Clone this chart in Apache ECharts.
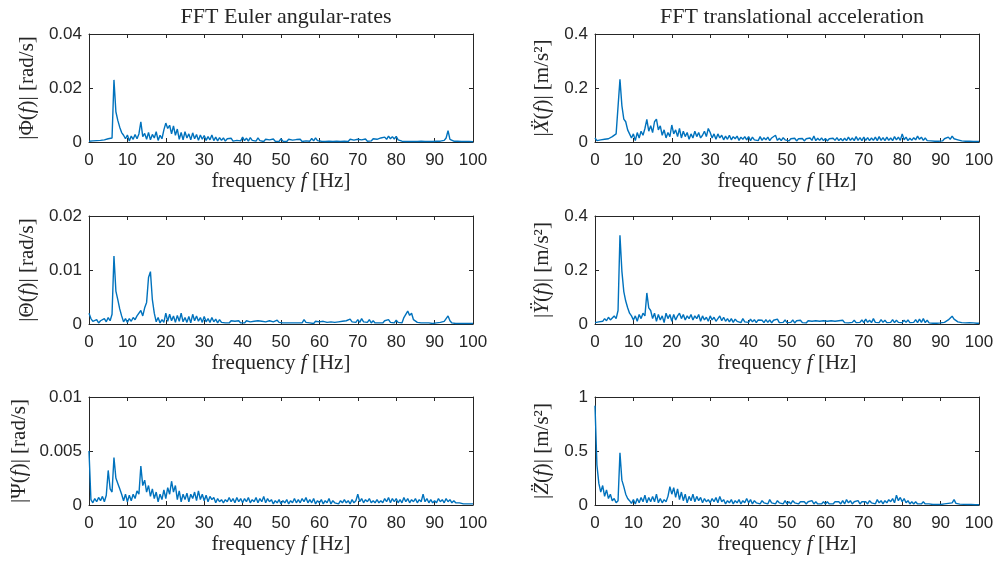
<!DOCTYPE html>
<html><head><meta charset="utf-8">
<script src="https://cdn.jsdelivr.net/npm/echarts@6/dist/echarts.min.js"></script>
<style>html,body{margin:0;padding:0;background:#fff}#c{width:998px;height:562px}</style>
</head><body><div id="c"></div>
<script>
// frequency bins [Hz]
const freq = [
0,0.5,1,1.5,2,2.5,3,3.5,4,4.5,
5,5.5,6,6.5,7,7.5,8,8.5,9,9.5,
10,10.5,11,11.5,12,12.5,13,13.5,14,14.5,
15,15.5,16,16.5,17,17.5,18,18.5,19,19.5,
20,20.5,21,21.5,22,22.5,23,23.5,24,24.5,
25,25.5,26,26.5,27,27.5,28,28.5,29,29.5,
30,30.5,31,31.5,32,32.5,33,33.5,34,34.5,
35,35.5,36,36.5,37,37.5,38,38.5,39,39.5,
40,40.5,41,41.5,42,42.5,43,43.5,44,44.5,
45,45.5,46,46.5,47,47.5,48,48.5,49,49.5,
50,50.5,51,51.5,52,52.5,53,53.5,54,54.5,
55,55.5,56,56.5,57,57.5,58,58.5,59,59.5,
60,60.5,61,61.5,62,62.5,63,63.5,64,64.5,
65,65.5,66,66.5,67,67.5,68,68.5,69,69.5,
70,70.5,71,71.5,72,72.5,73,73.5,74,74.5,
75,75.5,76,76.5,77,77.5,78,78.5,79,79.5,
80,80.5,81,81.5,82,82.5,83,83.5,84,84.5,
85,85.5,86,86.5,87,87.5,88,88.5,89,89.5,
90,90.5,91,91.5,92,92.5,93,93.5,94,94.5,
95,95.5,96,96.5,97,97.5,98,98.5,99,99.5,
100];

// |Phi(f)| [rad/s]
const phiAmp = [
0.0003,0.0002,0.0004,0.0003,0.0005,0.0003,0.0006,0.0004,0.0008,0.0005,
0.0012,0.0006,0.0015,0.0230,0.0112,0.0080,0.0055,0.0035,0.0025,0.0012,
0.0026,0.0004,0.0022,0.0010,0.0028,0.0012,0.0030,0.0075,0.0020,0.0032,
0.0010,0.0035,0.0008,0.0028,0.0015,0.0038,0.0006,0.0025,0.0012,0.0045,
0.0070,0.0050,0.0062,0.0030,0.0060,0.0025,0.0048,0.0010,0.0035,0.0008,
0.0038,0.0015,0.0030,0.0008,0.0034,0.0012,0.0028,0.0006,0.0026,0.0010,
0.0024,0.0006,0.0020,0.0008,0.0026,0.0005,0.0018,0.0004,0.0016,0.0006,
0.0015,0.0003,0.0012,0.0005,0.0014,0.0003,0.0010,0.0006,0.0012,0.0004,
0.0018,0.0005,0.0014,0.0003,0.0016,0.0006,0.0012,0.0003,0.0015,0.0005,
0.0012,0.0002,0.0010,0.0004,0.0008,0.0002,0.0011,0.0003,0.0009,0.0002,
0.0012,0.0003,0.0008,0.0002,0.0010,0.0003,0.0007,0.0002,0.0009,0.0003,
0.0010,0.0002,0.0008,0.0004,0.0011,0.0003,0.0013,0.0004,0.0015,0.0005,
0.0010,0.0003,0.0006,0.0002,0.0008,0.0003,0.0007,0.0002,0.0006,0.0003,
0.0008,0.0002,0.0006,0.0003,0.0009,0.0002,0.0010,0.0003,0.0007,0.0004,
0.0010,0.0003,0.0008,0.0004,0.0011,0.0003,0.0009,0.0004,0.0012,0.0005,
0.0010,0.0006,0.0015,0.0008,0.0018,0.0010,0.0022,0.0012,0.0020,0.0011,
0.0021,0.0008,0.0015,0.0003,0.0008,0.0002,0.0009,0.0002,0.0006,0.0002,
0.0007,0.0002,0.0009,0.0003,0.0005,0.0002,0.0006,0.0002,0.0004,0.0002,
0.0005,0.0003,0.0006,0.0003,0.0008,0.0006,0.0015,0.0042,0.0010,0.0004,
0.0003,0.0002,0.0003,0.0002,0.0002,0.0002,0.0002,0.0001,0.0002,0.0001,
0.0001];

// |Theta(f)| [rad/s]
const thetaAmp = [
0.0020,0.0010,0.0005,0.0003,0.0008,0.0002,0.0006,0.0003,0.0010,0.0004,
0.0012,0.0006,0.0018,0.0126,0.0061,0.0045,0.0028,0.0015,0.0004,0.0010,
0.0003,0.0010,0.0005,0.0012,0.0008,0.0015,0.0012,0.0025,0.0015,0.0030,
0.0040,0.0086,0.0097,0.0045,0.0020,0.0004,0.0012,0.0002,0.0008,0.0003,
0.0020,0.0005,0.0018,0.0006,0.0015,0.0003,0.0016,0.0005,0.0020,0.0004,
0.0012,0.0003,0.0014,0.0002,0.0018,0.0006,0.0015,0.0005,0.0012,0.0003,
0.0014,0.0004,0.0010,0.0003,0.0012,0.0004,0.0009,0.0002,0.0008,0.0003,
0.0006,0.0002,0.0005,0.0002,0.0006,0.0003,0.0005,0.0002,0.0006,0.0002,
0.0005,0.0002,0.0006,0.0003,0.0004,0.0002,0.0005,0.0002,0.0006,0.0003,
0.0005,0.0002,0.0004,0.0002,0.0006,0.0003,0.0004,0.0002,0.0007,0.0003,
0.0005,0.0002,0.0004,0.0002,0.0005,0.0002,0.0004,0.0002,0.0005,0.0002,
0.0004,0.0002,0.0008,0.0003,0.0005,0.0002,0.0004,0.0001,0.0005,0.0002,
0.0004,0.0002,0.0005,0.0002,0.0003,0.0001,0.0004,0.0002,0.0003,0.0001,
0.0004,0.0002,0.0005,0.0003,0.0006,0.0003,0.0009,0.0004,0.0007,0.0003,
0.0008,0.0003,0.0010,0.0004,0.0007,0.0003,0.0008,0.0002,0.0006,0.0002,
0.0005,0.0002,0.0004,0.0002,0.0006,0.0003,0.0008,0.0003,0.0006,0.0002,
0.0007,0.0003,0.0006,0.0002,0.0012,0.0018,0.0024,0.0016,0.0020,0.0008,
0.0006,0.0003,0.0004,0.0002,0.0003,0.0002,0.0003,0.0002,0.0002,0.0001,
0.0003,0.0002,0.0004,0.0003,0.0006,0.0005,0.0008,0.0015,0.0006,0.0002,
0.0002,0.0001,0.0002,0.0001,0.0002,0.0001,0.0001,0.0001,0.0002,0.0001,
0.0001];

// |Psi(f)| [rad/s]
const psiAmp = [
0.0050,0.0005,0.0002,0.0006,0.0003,0.0007,0.0004,0.0008,0.0003,0.0009,
0.0032,0.0015,0.0012,0.0044,0.0025,0.0020,0.0015,0.0010,0.0004,0.0010,
0.0003,0.0009,0.0004,0.0010,0.0006,0.0013,0.0010,0.0036,0.0018,0.0023,
0.0012,0.0018,0.0008,0.0015,0.0006,0.0012,0.0003,0.0010,0.0005,0.0014,
0.0006,0.0016,0.0010,0.0022,0.0012,0.0018,0.0005,0.0013,0.0003,0.0010,
0.0005,0.0011,0.0003,0.0010,0.0006,0.0012,0.0004,0.0013,0.0005,0.0010,
0.0004,0.0009,0.0003,0.0008,0.0005,0.0007,0.0002,0.0006,0.0003,0.0005,
0.0002,0.0005,0.0003,0.0007,0.0003,0.0006,0.0002,0.0007,0.0003,0.0006,
0.0002,0.0006,0.0003,0.0007,0.0002,0.0005,0.0003,0.0007,0.0002,0.0006,
0.0003,0.0008,0.0002,0.0006,0.0003,0.0005,0.0001,0.0004,0.0002,0.0005,
0.0001,0.0004,0.0002,0.0005,0.0001,0.0004,0.0002,0.0006,0.0002,0.0005,
0.0002,0.0006,0.0003,0.0007,0.0002,0.0005,0.0002,0.0006,0.0001,0.0004,
0.0002,0.0005,0.0001,0.0004,0.0002,0.0006,0.0001,0.0004,0.0002,0.0003,
0.0001,0.0004,0.0002,0.0005,0.0002,0.0004,0.0001,0.0005,0.0002,0.0004,
0.0010,0.0003,0.0006,0.0002,0.0005,0.0003,0.0006,0.0002,0.0004,0.0002,
0.0005,0.0002,0.0004,0.0002,0.0006,0.0003,0.0007,0.0002,0.0006,0.0003,
0.0006,0.0002,0.0005,0.0002,0.0007,0.0003,0.0006,0.0002,0.0005,0.0003,
0.0006,0.0002,0.0005,0.0003,0.0010,0.0003,0.0006,0.0002,0.0005,0.0002,
0.0004,0.0002,0.0006,0.0003,0.0005,0.0002,0.0006,0.0003,0.0005,0.0002,
0.0004,0.0002,0.0003,0.0002,0.0003,0.0001,0.0002,0.0001,0.0001,0.0001,
0.0001];

// |X''(f)| [m/s^2]
const xAcc = [
0.015,0.005,0.010,0.008,0.012,0.010,0.015,0.012,0.018,0.020,
0.025,0.030,0.035,0.232,0.135,0.085,0.075,0.045,0.030,0.015,
0.030,0.005,0.035,0.015,0.040,0.025,0.050,0.084,0.040,0.060,
0.035,0.075,0.085,0.045,0.060,0.025,0.045,0.015,0.035,0.020,
0.063,0.030,0.045,0.020,0.050,0.015,0.040,0.020,0.035,0.010,
0.030,0.015,0.040,0.020,0.035,0.015,0.025,0.040,0.020,0.050,
0.035,0.015,0.030,0.010,0.030,0.015,0.025,0.008,0.022,0.010,
0.025,0.008,0.020,0.012,0.022,0.006,0.018,0.010,0.020,0.008,
0.020,0.005,0.018,0.008,0.015,0.005,0.020,0.006,0.016,0.008,
0.018,0.005,0.015,0.008,0.025,0.006,0.014,0.005,0.016,0.008,
0.015,0.004,0.012,0.006,0.014,0.004,0.012,0.005,0.013,0.004,
0.012,0.005,0.015,0.006,0.022,0.005,0.014,0.006,0.015,0.005,
0.013,0.004,0.012,0.005,0.014,0.006,0.016,0.005,0.013,0.004,
0.014,0.005,0.018,0.006,0.015,0.005,0.020,0.006,0.016,0.005,
0.018,0.006,0.016,0.005,0.015,0.006,0.018,0.005,0.020,0.006,
0.016,0.005,0.018,0.006,0.015,0.005,0.020,0.008,0.018,0.006,
0.030,0.008,0.018,0.005,0.014,0.006,0.016,0.008,0.022,0.010,
0.018,0.006,0.015,0.005,0.012,0.004,0.008,0.003,0.006,0.003,
0.008,0.004,0.012,0.006,0.018,0.010,0.022,0.012,0.016,0.008,
0.008,0.004,0.006,0.003,0.005,0.003,0.004,0.002,0.003,0.002,
0.002];

// |Y''(f)| [m/s^2]
const yAcc = [
0.005,0.010,0.008,0.015,0.010,0.020,0.012,0.025,0.015,0.020,
0.030,0.020,0.050,0.329,0.196,0.120,0.085,0.060,0.040,0.030,
0.015,0.030,0.010,0.035,0.020,0.040,0.030,0.115,0.060,0.050,
0.020,0.040,0.010,0.035,0.015,0.030,0.005,0.040,0.020,0.035,
0.010,0.035,0.015,0.030,0.040,0.020,0.035,0.015,0.030,0.020,
0.035,0.015,0.030,0.020,0.035,0.010,0.030,0.015,0.025,0.010,
0.030,0.015,0.025,0.010,0.020,0.030,0.012,0.025,0.010,0.020,
0.008,0.020,0.006,0.018,0.010,0.015,0.005,0.020,0.008,0.015,
0.006,0.018,0.008,0.016,0.005,0.015,0.008,0.014,0.005,0.016,
0.006,0.015,0.004,0.014,0.008,0.018,0.005,0.012,0.006,0.015,
0.005,0.012,0.006,0.015,0.004,0.012,0.006,0.014,0.005,0.012,
0.004,0.012,0.006,0.010,0.004,0.012,0.005,0.010,0.004,0.012,
0.005,0.010,0.004,0.012,0.005,0.010,0.004,0.012,0.005,0.014,
0.005,0.012,0.004,0.010,0.006,0.014,0.005,0.012,0.006,0.015,
0.005,0.018,0.006,0.014,0.005,0.020,0.006,0.012,0.005,0.016,
0.006,0.014,0.005,0.012,0.006,0.016,0.005,0.014,0.006,0.012,
0.005,0.014,0.006,0.015,0.005,0.012,0.006,0.016,0.005,0.018,
0.006,0.020,0.005,0.014,0.004,0.008,0.003,0.006,0.003,0.005,
0.004,0.008,0.006,0.012,0.015,0.022,0.029,0.018,0.012,0.008,
0.010,0.005,0.008,0.004,0.008,0.005,0.006,0.004,0.005,0.003,
0.003];

// |Z''(f)| [m/s^2]
const zAcc = [
0.92,0.37,0.20,0.12,0.18,0.08,0.14,0.06,0.10,0.04,
0.06,0.02,0.04,0.484,0.23,0.17,0.10,0.06,0.04,0.015,
0.05,0.01,0.06,0.02,0.07,0.03,0.09,0.02,0.07,0.03,
0.08,0.03,0.10,0.02,0.06,0.02,0.05,0.03,0.08,0.17,
0.10,0.16,0.07,0.15,0.05,0.12,0.04,0.10,0.02,0.08,
0.04,0.10,0.03,0.08,0.04,0.07,0.02,0.06,0.03,0.05,
0.02,0.06,0.03,0.07,0.02,0.08,0.03,0.05,0.01,0.04,
0.02,0.05,0.01,0.04,0.02,0.05,0.01,0.04,0.02,0.06,
0.02,0.05,0.01,0.04,0.02,0.03,0.01,0.04,0.02,0.03,
0.01,0.05,0.02,0.03,0.01,0.04,0.02,0.03,0.01,0.04,
0.01,0.03,0.01,0.04,0.02,0.03,0.01,0.03,0.02,0.03,
0.01,0.03,0.02,0.04,0.01,0.03,0.01,0.02,0.01,0.03,
0.01,0.03,0.01,0.02,0.01,0.03,0.02,0.03,0.01,0.04,
0.01,0.05,0.02,0.04,0.01,0.03,0.02,0.04,0.01,0.03,
0.02,0.03,0.01,0.04,0.02,0.03,0.01,0.05,0.02,0.04,
0.01,0.04,0.02,0.05,0.03,0.06,0.02,0.09,0.04,0.07,
0.03,0.06,0.02,0.04,0.01,0.03,0.01,0.03,0.01,0.02,
0.01,0.03,0.01,0.02,0.01,0.02,0.005,0.015,0.005,0.01,
0.005,0.015,0.01,0.02,0.015,0.03,0.02,0.05,0.015,0.01,
0.008,0.005,0.006,0.004,0.005,0.003,0.004,0.003,0.003,0.002,
0.002];

const xTicks = [0,10,20,30,40,50,60,70,80,90,100];
const titles = ['FFT Euler angular-rates', 'FFT translational acceleration'];

const serif = 'Liberation Serif';
const sans = 'Liberation Sans';
const ink = '#262626';
const lineColor = '#0072BD';

const panels = [
  {data: phiAmp,   max: 0.04,  step: 0.02,  left: 89,  top: 34,  name: '{r||Φ(}{i|f}{r|)| [rad/s]}', gap: 51},
  {data: xAcc,     max: 0.4,   step: 0.2,   left: 595, top: 34,  name: '{r||}{i|Ẍ}{r|(}{i|f}{r|)| [m/s²]}', gap: 42},
  {data: thetaAmp, max: 0.02,  step: 0.01,  left: 89,  top: 216, name: '{r||Θ(}{i|f}{r|)| [rad/s]}', gap: 51},
  {data: yAcc,     max: 0.4,   step: 0.2,   left: 595, top: 216, name: '{r||}{i|Ÿ}{r|(}{i|f}{r|)| [m/s²]}', gap: 42},
  {data: psiAmp,   max: 0.01,  step: 0.005, left: 89,  top: 397, name: '{r||Ψ(}{i|f}{r|)| [rad/s]}', gap: 59},
  {data: zAcc,     max: 1,     step: 0.5,   left: 595, top: 397, name: '{r||}{i|Z\u0308}{r|(}{i|f}{r|)| [m/s²]}', gap: 42}
];

const rich = {
  r: {fontFamily: serif, fontSize: 21, color: ink},
  i: {fontFamily: serif, fontSize: 21, color: ink, fontStyle: 'italic'}
};

const grid = [], xAxis = [], yAxis = [], series = [];
panels.forEach((p, k) => {
  grid.push({left: p.left, top: p.top, width: 384, height: 108, containLabel: false});
  const axLine = {show: true, onZero: false, lineStyle: {color: ink, width: 1}};
  const tick = {show: true, inside: true, length: 4, lineStyle: {color: ink}};
  xAxis.push({
    gridIndex: k, type: 'value', min: 0, max: 100, interval: 10, position: 'bottom',
    axisLine: axLine, axisTick: tick, splitLine: {show: false},
    axisLabel: {fontFamily: sans, fontSize: 17, color: ink, margin: 10},
    name: '{r|frequency }{i|f}{r| [Hz]}', nameLocation: 'middle', nameGap: 29,
    nameTextStyle: {rich: rich}
  });
  xAxis.push({
    gridIndex: k, type: 'value', min: 0, max: 100, interval: 10, position: 'top',
    axisLine: axLine, axisTick: tick, splitLine: {show: false}, axisLabel: {show: false}
  });
  yAxis.push({
    gridIndex: k, type: 'value', min: 0, max: p.max, interval: p.step, position: 'left',
    axisLine: axLine, axisTick: tick, splitLine: {show: false},
    axisLabel: {fontFamily: sans, fontSize: 17, color: ink, margin: 7},
    name: p.name, nameLocation: 'middle', nameGap: p.gap, nameRotate: 90,
    nameTextStyle: {rich: rich}
  });
  yAxis.push({
    gridIndex: k, type: 'value', min: 0, max: p.max, interval: p.step, position: 'right',
    axisLine: axLine, axisTick: tick, splitLine: {show: false}, axisLabel: {show: false}
  });
  series.push({
    type: 'line', xAxisIndex: 2 * k, yAxisIndex: 2 * k,
    data: freq.map((f, j) => [f, p.data[j]]),
    showSymbol: false, symbol: 'none', clip: true,
    lineStyle: {color: lineColor, width: 1.4}, itemStyle: {color: lineColor}
  });
});

const chart = echarts.init(document.getElementById('c'), null, {renderer: 'canvas'});
chart.setOption({
  animation: false,
  backgroundColor: '#fff',
  title: [
    {text: titles[0], left: 281, top: 1, textAlign: 'center',
     textStyle: {fontFamily: serif, fontSize: 22, fontWeight: 'normal', color: ink}},
    {text: titles[1], left: 787, top: 1, textAlign: 'center',
     textStyle: {fontFamily: serif, fontSize: 22, fontWeight: 'normal', color: ink}}
  ],
  grid: grid, xAxis: xAxis, yAxis: yAxis, series: series
});
</script>
</body></html>
